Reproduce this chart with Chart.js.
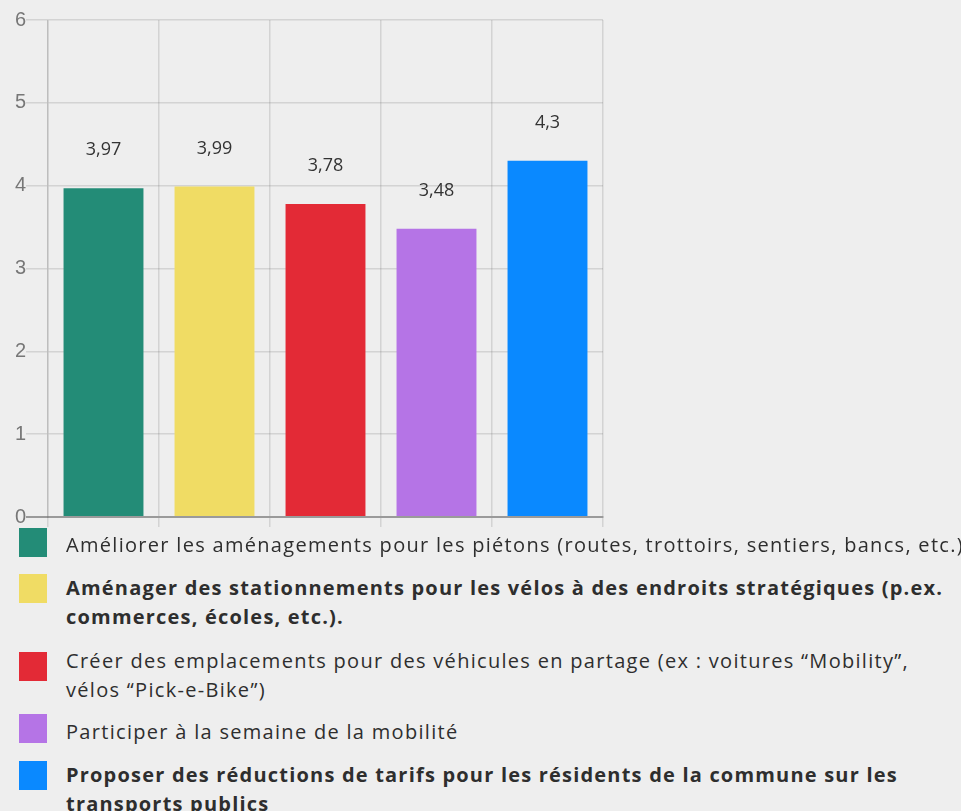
<!DOCTYPE html>
<html>
<head>
<meta charset="utf-8">
<script src="https://cdn.jsdelivr.net/npm/chart.js@4.4.1/dist/chart.umd.min.js"></script>
<style>
  html, body { margin: 0; padding: 0; background: #eeeeee; }
  #wrap { position: relative; width: 961px; height: 811px; overflow: hidden; }
  #chartBox { position: absolute; left: 0; top: 0; width: 961px; height: 530px; }
  #legend { position: absolute; left: 0; top: 0; width: 961px; font-family: "Open Sans", sans-serif; font-size: 20px; letter-spacing: 1.3px; color: #2e2e2e; }
  .item { position: absolute; left: 19px; width: 942px; }
  .box { position: absolute; left: 0; top: 0; width: 28px; height: 29px; }
  .txt { position: absolute; left: 47px; width: 900px; line-height: 29px; }
  .bold { font-weight: 700; letter-spacing: 1.2px; }
</style>
</head>
<body>
<div id="wrap">
  <div id="chartBox"><canvas id="barChart"></canvas></div>
  <div id="legend"></div>
</div>
<script>
const categories = [
  "Améliorer les aménagements pour les piétons (routes, trottoirs, sentiers, bancs, etc.)",
  "Aménager des stationnements pour les vélos à des endroits stratégiques (p.ex. commerces, écoles, etc.).",
  "Créer des emplacements pour des véhicules en partage (ex : voitures “Mobility”, vélos “Pick-e-Bike”)",
  "Participer à la semaine de la mobilité",
  "Proposer des réductions de tarifs pour les résidents de la commune sur les transports publics"
];
const values = [3.97, 3.99, 3.78, 3.48, 4.3];
const colors = ["#238c77", "#f0dc64", "#e32a36", "#b574e6", "#0a89ff"];
const boldItems = [false, true, false, false, true];
const yTicks = [0, 1, 2, 3, 4, 5, 6];

// legend layout: row tops and text offset from the colour box
const rowTops = [528, 574, 652, 714, 761];
const textShift = [2, -1, -6, 3, -1];

const legend = document.getElementById("legend");
categories.forEach((c, i) => {
  const row = document.createElement("div");
  row.className = "item";
  row.style.top = rowTops[i] + "px";
  const box = document.createElement("div");
  box.className = "box";
  box.style.background = colors[i];
  const t = document.createElement("div");
  t.className = "txt" + (boldItems[i] ? " bold" : "");
  t.style.top = textShift[i] + "px";
  t.textContent = c;
  row.appendChild(box);
  row.appendChild(t);
  legend.appendChild(row);
});

const valueLabels = {
  id: "valueLabels",
  afterDatasetsDraw(chart) {
    const ctx = chart.ctx;
    const meta = chart.getDatasetMeta(0);
    ctx.save();
    ctx.font = '18px "Open Sans", sans-serif';
    ctx.fillStyle = "#333333";
    ctx.textAlign = "center";
    ctx.textBaseline = "middle";
    meta.data.forEach((bar, i) => {
      ctx.fillText(String(values[i]).replace(".", ","), bar.x, bar.y - 38);
    });
    ctx.restore();
  }
};

const ctx = document.getElementById("barChart").getContext("2d");
new Chart(ctx, {
  type: "bar",
  data: {
    labels: categories,
    datasets: [{
      data: values,
      backgroundColor: colors,
      borderColor: colors,
      borderWidth: 0,
      barPercentage: 0.72,
      categoryPercentage: 1
    }]
  },
  options: {
    responsive: true,
    maintainAspectRatio: false,
    animation: false,
    layout: { padding: { top: 20, right: 358, left: 0, bottom: 0 } },
    plugins: { legend: { display: false }, tooltip: { enabled: false } },
    scales: {
      x: {
        grid: {
          offset: true,
          color: "rgba(0,0,0,0.11)",
          lineWidth: 1.5,
          tickLength: 10,
          drawOnChartArea: true
        },
        border: { color: "#9a9a9a", width: 2 },
        ticks: { display: false },
        afterFit(scale) { scale.height = 13; }
      },
      y: {
        min: 0,
        max: 6,
        afterBuildTicks(scale) { scale.ticks = yTicks.map(v => ({ value: v })); },
        grid: {
          color: c => c.tick && c.tick.value === 0 ? "#9a9a9a" : "rgba(0,0,0,0.11)",
          lineWidth: c => c.tick && c.tick.value === 0 ? 2 : 1.5,
          tickLength: 22
        },
        border: { color: "rgba(0,0,0,0.11)", width: 1.5 },
        ticks: {
          padding: 0,
          color: "#777777",
          font: { family: '"Liberation Sans", Arial, sans-serif', size: 20 }
        },
        afterFit(scale) { scale.width = 48; }
      }
    }
  },
  plugins: [valueLabels]
});
</script>
</body>
</html>
